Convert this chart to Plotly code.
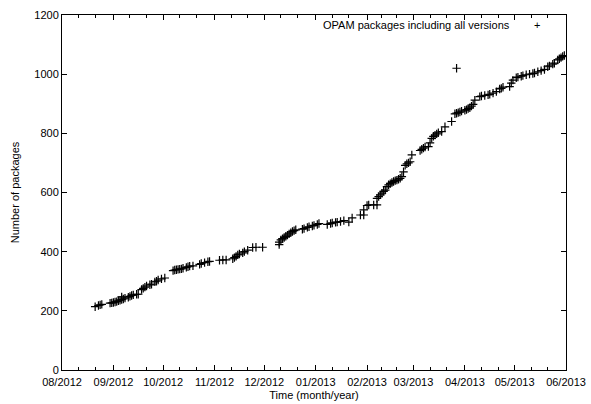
import plotly.graph_objects as go

dates = [
    "2012-08-21", "2012-08-23", "2012-08-24", "2012-08-25", "2012-08-30", "2012-08-31",
    "2012-09-01", "2012-09-02", "2012-09-03", "2012-09-04", "2012-09-05", "2012-09-06",
    "2012-09-06", "2012-09-07", "2012-09-08", "2012-09-10", "2012-09-11", "2012-09-12",
    "2012-09-13", "2012-09-15", "2012-09-16", "2012-09-18", "2012-09-19", "2012-09-20",
    "2012-09-21", "2012-09-23", "2012-09-24", "2012-09-26", "2012-09-27", "2012-09-28",
    "2012-09-30", "2012-10-02",
    "2012-10-07", "2012-10-08", "2012-10-09", "2012-10-10", "2012-10-11", "2012-10-12",
    "2012-10-13", "2012-10-15", "2012-10-16", "2012-10-17", "2012-10-19", "2012-10-23",
    "2012-10-24", "2012-10-26", "2012-10-28", "2012-10-29",
    "2012-11-04", "2012-11-06", "2012-11-08", "2012-11-12", "2012-11-13", "2012-11-14",
    "2012-11-15", "2012-11-16", "2012-11-18", "2012-11-19", "2012-11-21", "2012-11-24",
    "2012-11-26", "2012-11-30",
    "2012-12-10", "2012-12-10", "2012-12-11", "2012-12-12", "2012-12-13", "2012-12-14",
    "2012-12-15", "2012-12-16", "2012-12-17", "2012-12-18", "2012-12-19", "2012-12-20",
    "2012-12-24", "2012-12-25", "2012-12-27", "2012-12-28", "2012-12-30", "2012-12-31",
    "2013-01-02", "2013-01-03", "2013-01-08", "2013-01-10", "2013-01-11", "2013-01-13",
    "2013-01-14", "2013-01-16", "2013-01-18", "2013-01-21", "2013-01-23", "2013-01-28",
    "2013-01-30", "2013-01-30",
    "2013-02-01", "2013-02-02", "2013-02-05", "2013-02-07", "2013-02-07", "2013-02-08",
    "2013-02-09", "2013-02-10", "2013-02-11", "2013-02-12", "2013-02-13", "2013-02-14",
    "2013-02-15", "2013-02-16", "2013-02-17", "2013-02-18", "2013-02-19", "2013-02-20",
    "2013-02-21", "2013-02-22", "2013-02-23", "2013-02-24", "2013-02-25", "2013-02-26",
    "2013-02-27", "2013-02-28",
    "2013-03-05", "2013-03-06", "2013-03-07", "2013-03-08", "2013-03-10", "2013-03-11",
    "2013-03-12", "2013-03-13", "2013-03-14", "2013-03-15", "2013-03-16", "2013-03-18",
    "2013-03-20", "2013-03-24", "2013-03-26", "2013-03-27", "2013-03-27", "2013-03-28",
    "2013-03-29", "2013-03-30",
    "2013-04-01", "2013-04-02", "2013-04-03", "2013-04-04", "2013-04-05", "2013-04-06",
    "2013-04-07", "2013-04-10", "2013-04-11", "2013-04-13", "2013-04-15", "2013-04-16",
    "2013-04-18", "2013-04-20", "2013-04-22", "2013-04-23", "2013-04-24", "2013-04-28",
    "2013-04-29", "2013-04-30",
    "2013-05-02", "2013-05-03", "2013-05-05", "2013-05-06", "2013-05-08", "2013-05-10",
    "2013-05-12", "2013-05-13", "2013-05-15", "2013-05-17", "2013-05-19", "2013-05-21",
    "2013-05-22", "2013-05-24", "2013-05-25", "2013-05-27", "2013-05-28", "2013-05-29",
    "2013-05-30", "2013-05-31",
]

packages = [
    214, 218, 220, 222, 226, 227,
    228, 230, 231, 234, 236, 238,
    247, 240, 243, 246, 249, 252,
    254, 256, 256, 272, 276, 280,
    284, 288, 290, 298, 300, 304,
    308, 311,
    336, 338, 339, 340, 341, 342,
    344, 347, 349, 351, 352, 357,
    360, 363, 366, 367,
    371, 372, 372, 376, 380, 384,
    389, 392, 396, 400, 405, 414,
    415, 415,
    424, 432, 440, 444, 448, 452,
    456, 460, 464, 468, 471, 474,
    476, 478, 482, 484, 487, 489,
    492, 495, 492, 495, 497, 499,
    500, 502, 505, 500, 514, 524,
    524, 541,
    556, 558, 558, 558, 580, 586,
    592, 598, 604, 608, 620, 626,
    630, 634, 637, 640, 642, 645,
    648, 654, 670, 692, 697, 700,
    704, 727,
    742, 746, 750, 754, 755, 768,
    783, 790, 794, 798, 802, 806,
    822, 840, 866, 868, 1020, 870,
    872, 875,
    878, 880, 884, 886, 892, 898,
    912, 924, 926, 928, 930, 932,
    936, 941, 950, 952, 956, 958,
    970, 980,
    988, 990, 993, 995, 998, 1000,
    1002, 1004, 1008, 1012, 1016, 1025,
    1028, 1034, 1037, 1048, 1052, 1056,
    1060, 1063,
]

month_ticks = ["2012-08-01", "2012-09-01", "2012-10-01", "2012-11-01", "2012-12-01",
               "2013-01-01", "2013-02-01", "2013-03-01", "2013-04-01", "2013-05-01",
               "2013-06-01"]
month_labels = ["08/2012", "09/2012", "10/2012", "11/2012", "12/2012", "01/2013",
                "02/2013", "03/2013", "04/2013", "05/2013", "06/2013"]
minor_ticks = ["2012-08-11", "2012-08-21", "2012-09-11", "2012-09-21", "2012-10-11",
               "2012-10-21", "2012-11-11", "2012-11-21", "2012-12-11", "2012-12-21",
               "2013-01-11", "2013-01-21", "2013-02-10", "2013-02-19", "2013-03-11",
               "2013-03-21", "2013-04-11", "2013-04-21", "2013-05-11", "2013-05-21"]

legend_label = "OPAM packages including all versions"
FONT = "Liberation Sans, Arial, Helvetica, sans-serif"

fig = go.Figure()
fig.add_trace(go.Scatter(
    x=dates, y=packages, mode="markers", name=legend_label,
    marker=dict(symbol="cross-thin", size=6, color="black",
                line=dict(color="black", width=1.2)),
    showlegend=False,
))

axis_common = dict(
    showline=True, linecolor="black", linewidth=1, mirror="ticks",
    ticks="inside", ticklen=5, tickcolor="black", tickwidth=1,
    showgrid=False, zeroline=False, automargin=False,
    tickfont=dict(family=FONT, size=11, color="black"),
)

fig.update_xaxes(
    type="date", range=["2012-08-01", "2013-06-01"],
    tickmode="array", tickvals=month_ticks, ticktext=month_labels,
    ticklabelstandoff=2,
    minor=dict(tickmode="array", tickvals=minor_ticks, ticks="inside",
               ticklen=3, tickcolor="black", tickwidth=1, showgrid=False),
    title=dict(text="Time (month/year)", font=dict(family=FONT, size=11, color="black"),
               standoff=4),
    **axis_common,
)
fig.update_yaxes(
    range=[0, 1200], tickmode="linear", tick0=0, dtick=200,
    title=dict(text="Number of packages", font=dict(family=FONT, size=11, color="black"),
               standoff=12),
    **axis_common,
)

fig.add_annotation(
    xref="paper", yref="paper", x=0.893, y=0.972, xanchor="right", yanchor="middle",
    text=legend_label, showarrow=False,
    font=dict(family=FONT, size=11, color="black"),
)
fig.add_annotation(
    xref="paper", yref="paper", x=0.942, y=0.972, xanchor="center", yanchor="middle",
    text="+", showarrow=False,
    font=dict(family=FONT, size=11, color="black"),
)

fig.update_layout(
    width=591, height=404,
    margin=dict(l=62, r=25, t=15, b=34),
    plot_bgcolor="white", paper_bgcolor="white",
    font=dict(family=FONT, size=11, color="black"),
)

fig.write_html("out.html", config={"displayModeBar": False},
               post_script="document.body.style.margin='0px';")
